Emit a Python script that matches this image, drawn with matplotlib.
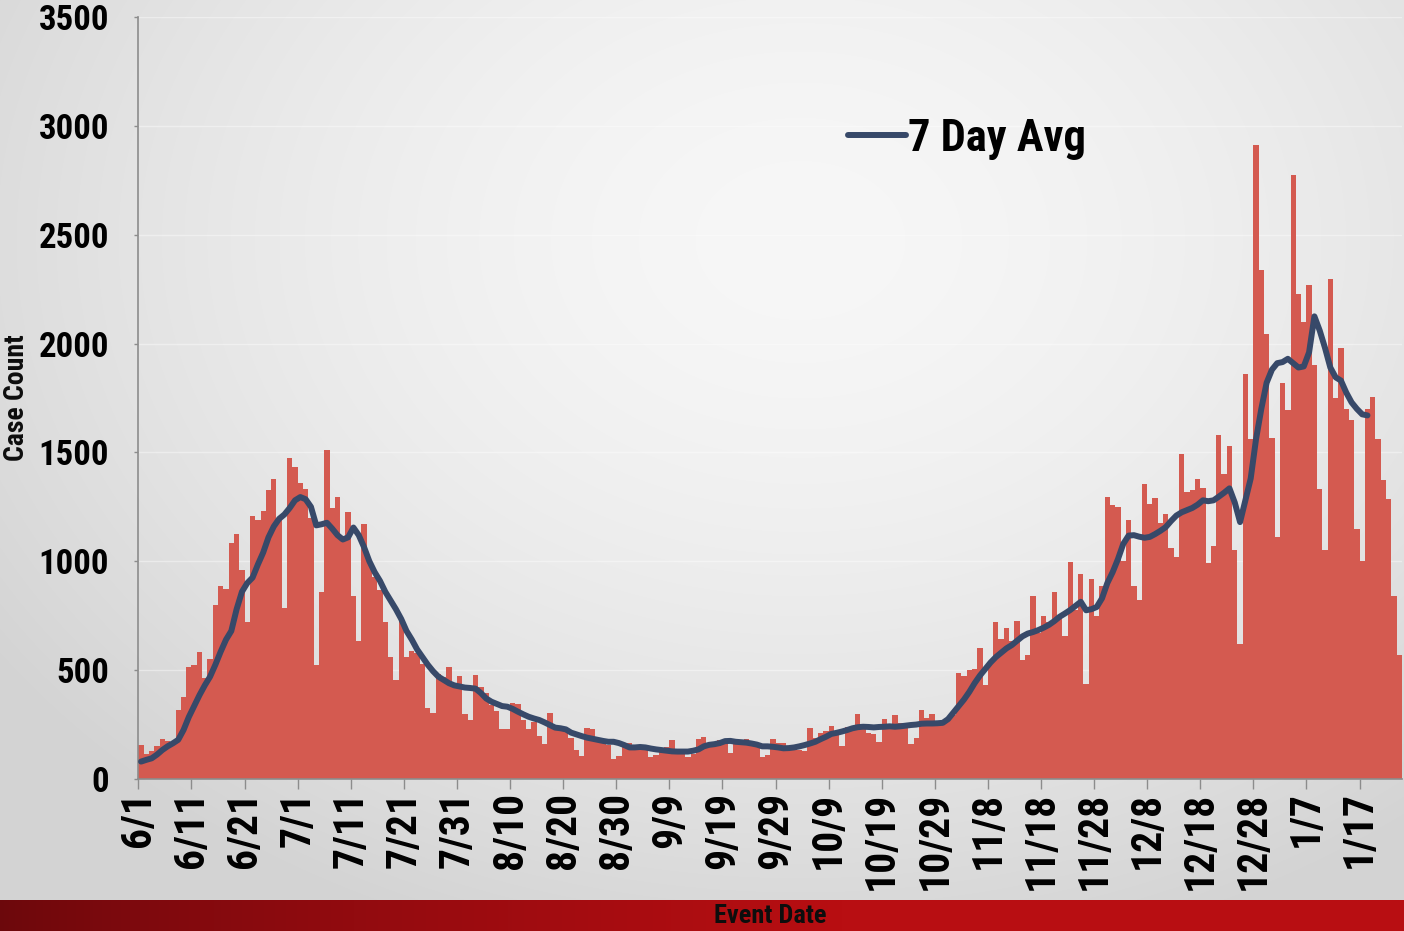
import numpy as np
import matplotlib
matplotlib.use('Agg')
import matplotlib.pyplot as plt
from matplotlib import font_manager as fm

# daily case counts, 6/1 .. 1/24
cases = [156, 113, 128, 151, 182, 175, 170, 317, 378, 516,
         523, 585, 462, 550, 799, 888, 871, 1082, 1127, 960,
         723, 1208, 1191, 1231, 1327, 1376, 1190, 784, 1473, 1435,
         1361, 1330, 1200, 524, 860, 1511, 1243, 1294, 1110, 1226,
         841, 634, 1170, 991, 929, 868, 723, 562, 455, 737,
         559, 590, 577, 528, 327, 304, 480, 470, 515, 440,
         473, 297, 270, 478, 424, 393, 340, 314, 231, 231,
         348, 343, 271, 228, 260, 197, 162, 302, 233, 240,
         225, 190, 133, 106, 236, 228, 187, 179, 156, 90,
         106, 156, 167, 148, 141, 141, 102, 110, 141, 148,
         179, 133, 126, 99, 115, 182, 191, 167, 171, 179,
         171, 121, 171, 171, 182, 164, 156, 102, 110, 182,
         164, 167, 148, 141, 133, 130, 233, 187, 210, 221,
         244, 218, 152, 237, 233, 300, 248, 210, 207, 170,
         274, 250, 293, 255, 248, 162, 187, 315, 281, 300,
         255, 255, 270, 293, 485, 473, 501, 505, 603, 430,
         540, 720, 645, 694, 632, 726, 547, 568, 840, 669,
         749, 723, 857, 749, 657, 998, 776, 943, 438, 917,
         749, 886, 1297, 1258, 1251, 1000, 1189, 886, 822, 1355,
         1262, 1289, 1177, 1215, 1060, 1021, 1491, 1320, 1326, 1378,
         1335, 990, 1070, 1580, 1400, 1528, 1050, 618, 1860, 1560,
         2910, 2340, 2042, 1566, 1110, 1817, 1694, 2775, 2226, 2098,
         2268, 1900, 1334, 1050, 2298, 1750, 1981, 1700, 1650, 1150,
         1000, 1698, 1755, 1560, 1372, 1287, 840, 570]

# 7 day average as drawn (ends 1/18)
avg7 = [80, 88, 95, 112, 133, 150, 164, 180, 225, 285,
        335, 385, 430, 470, 525, 585, 640, 680, 780, 860,
        900, 925, 985, 1040, 1110, 1160, 1195, 1215, 1245, 1280,
        1295, 1285, 1250, 1165, 1170, 1177, 1150, 1120, 1100, 1110,
        1155, 1120, 1065, 1000, 950, 910, 860, 820, 780, 735,
        680, 640, 595, 560, 525, 495, 470, 455, 440, 430,
        425, 420, 418, 415, 395, 370, 355, 345, 335, 332,
        322, 309, 297, 286, 278, 271, 260, 248, 236, 233,
        228, 213, 205, 197, 190, 185, 180, 175, 171, 171,
        165, 156, 145, 145, 147, 145, 140, 136, 133, 130,
        127, 126, 126, 126, 130, 136, 150, 157, 160, 165,
        174, 175, 171, 169, 167, 163, 158, 150, 150, 148,
        145, 141, 142, 145, 150, 156, 163, 171, 183, 194,
        207, 212, 218, 225, 233, 238, 240, 239, 237, 239,
        240, 242, 240, 242, 245, 248, 250, 254, 255, 255,
        256, 258, 275, 305, 335, 365, 400, 440, 475, 505,
        535, 560, 580, 600, 615, 635, 655, 668, 675, 684,
        695, 708, 725, 745, 760, 776, 795, 814, 775, 780,
        790, 830, 900, 950, 1010, 1080, 1118, 1120, 1113, 1108,
        1112, 1125, 1140, 1157, 1185, 1210, 1225, 1235, 1245, 1260,
        1280, 1276, 1280, 1297, 1315, 1335, 1270, 1180, 1280, 1380,
        1560, 1700, 1820, 1880, 1910, 1915, 1930, 1910, 1890, 1895,
        1960, 2125, 2060, 1980, 1890, 1845, 1830, 1775, 1730, 1700,
        1675, 1670]

tick_labels = ['6/1', '6/11', '6/21', '7/1', '7/11', '7/21', '7/31', '8/10',
               '8/20', '8/30', '9/9', '9/19', '9/29', '10/9', '10/19', '10/29',
               '11/8', '11/18', '11/28', '12/8', '12/18', '12/28', '1/7', '1/17']

# pick a narrow bold font if there is one
names = {f.name for f in fm.fontManager.ttflist}
cond = 'DejaVu Sans'
for c in ['Roboto Condensed', 'Liberation Sans Narrow', 'DejaVu Sans Condensed']:
    if c in names:
        cond = c
        break
FONT = dict(family=cond, fontweight='black', fontstretch='condensed')

W, H = 1404, 931
fig = plt.figure(figsize=(W / 100, H / 100), dpi=100)

# grey backdrop with a soft light patch
bg = fig.add_axes([0, 0, 1, 1], zorder=-10)
yy, xx = np.mgrid[0:H, 0:W]
d = np.sqrt(((xx - 800) / 950.0) ** 2 + ((yy - 240) / 720.0) ** 2)
g = np.clip(247 - 34 * d ** 1.6, 211, 247) / 255.0
bg.imshow(np.dstack([g, g, g]), aspect='auto', extent=[0, 1, 0, 1])
bg.axis('off')

# red strip at the bottom
band = fig.add_axes([0, 0, 1, 31 / H], zorder=-5)
t = np.clip(np.linspace(0, 1, W) / 0.6, 0, 1) ** 0.8
left_c = np.array([108, 8, 12]) / 255.0
right_c = np.array([184, 14, 18]) / 255.0
row = left_c[None, :] * (1 - t[:, None]) + right_c[None, :] * t[:, None]
band.imshow(row[None, :, :], aspect='auto', extent=[0, 1, 0, 1])
band.axis('off')
fig.text(770 / W, 15 / H, 'Event Date', ha='center', va='center',
         fontsize=19, color='#0d0d0d', **FONT)

ax = fig.add_axes([138.4 / W, (H - 779) / H, (1402 - 138.4) / W, 762 / H])
ax.patch.set_alpha(0)
x = np.arange(len(cases))
ax.bar(x, cases, width=1.0, align='edge', color='#d45a50', linewidth=0, zorder=2)
ax.plot(np.arange(len(avg7)) + 0.5, avg7, color='#374969', linewidth=4.3,
        solid_capstyle='round', solid_joinstyle='round', zorder=3, label='7 Day Avg')

ax.set_xlim(0, len(cases))
ax.set_ylim(0, 3500)
ax.set_yticks(np.arange(0, 3501, 500))
ax.set_xticks(np.arange(0, 231, 10))
ax.set_xticklabels(tick_labels, rotation=90, ha='center', va='top', fontsize=30, **FONT)
for lb in ax.get_yticklabels():
    lb.set_fontsize(25)
    lb.set_fontweight('black')
    lb.set_family(cond)
    lb.set_fontstretch('condensed')
ax.tick_params(axis='x', length=7, width=1, color='#8c8c8c', pad=2)
ax.tick_params(axis='y', length=3, width=1, color='#8c8c8c', pad=18)
ax.grid(axis='y', color='white', alpha=0.4, linewidth=1, zorder=0)
ax.set_axisbelow(True)
for s in ['top', 'right']:
    ax.spines[s].set_visible(False)
for s in ['left', 'bottom']:
    ax.spines[s].set_color('#8c8c8c')
    ax.spines[s].set_linewidth(1.2)

fig.text(17 / W, 1 - 398 / H, 'Case Count', rotation=90, ha='center', va='center',
         fontsize=20, color='#0d0d0d', **FONT)

leg = ax.legend(loc='center left', bbox_to_anchor=(848 / W, 1 - 139 / H),
                bbox_transform=fig.transFigure, frameon=False, borderpad=0,
                borderaxespad=0, handlelength=1.3, handletextpad=0.05,
                prop=fm.FontProperties(family=cond, weight='black', stretch='condensed', size=32))

fig.savefig('out.png', dpi=100)
